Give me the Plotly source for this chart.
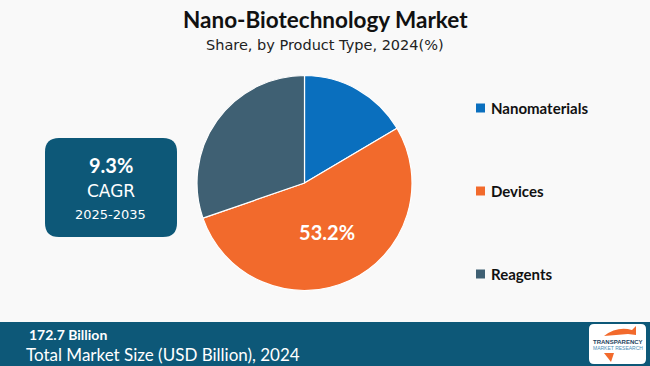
import plotly.graph_objects as go

categories = ["Nanomaterials", "Devices", "Reagents"]
shares = [16.5, 53.2, 30.3]
slice_labels = ["", "53.2%", ""]
colors = ["#0A6FBE", "#F26A2C", "#3F6073"]

title = "Nano-Biotechnology Market"
subtitle = "Share, by Product Type, 2024(%)"
cagr_value = "9.3%"
cagr_label = "CAGR"
cagr_period = "2025-2035"
market_value = "172.7 Billion"
market_label = "Total Market Size (USD Billion), 2024"

W, H = 650, 366
BG = "#F9F9F9"
TEAL = "#0D5878"

fig = go.Figure()
fig.add_trace(go.Pie(
    labels=categories, values=shares, text=slice_labels,
    textinfo="text", textposition="inside",
    insidetextfont=dict(family="Lato", size=20, color="white", weight="bold"),
    marker=dict(colors=colors, line=dict(color="white", width=1.2)),
    sort=False, direction="clockwise", rotation=0,
    domain=dict(x=[197/W, 412/W], y=[(H-290.5)/H, (H-75.5)/H]),
    showlegend=False, hoverinfo="label+percent",
))

shapes = []
annotations = []

def px(x):
    return x / W

def py(y):
    return 1 - y / H

# titles
annotations.append(dict(text=f"<b>{title}</b>", x=px(325), y=py(20), xref="paper", yref="paper",
                        showarrow=False, font=dict(family="Lato", size=22.5, color="#111111"),
                        xanchor="center", yanchor="middle"))
annotations.append(dict(text=subtitle, x=px(325), y=py(45), xref="paper", yref="paper",
                        showarrow=False, font=dict(family="DejaVu Sans", size=14.5, color="#222222"),
                        xanchor="center", yanchor="middle"))

# CAGR box (rounded)
x0, y0, x1, y1, r = 45, 138, 177, 237, 14
path = (f"M {px(x0+r)} {py(y0)} L {px(x1-r)} {py(y0)} Q {px(x1)} {py(y0)} {px(x1)} {py(y0+r)} "
        f"L {px(x1)} {py(y1-r)} Q {px(x1)} {py(y1)} {px(x1-r)} {py(y1)} "
        f"L {px(x0+r)} {py(y1)} Q {px(x0)} {py(y1)} {px(x0)} {py(y1-r)} "
        f"L {px(x0)} {py(y0+r)} Q {px(x0)} {py(y0)} {px(x0+r)} {py(y0)} Z")
shapes.append(dict(type="path", path=path, xref="paper", yref="paper",
                   fillcolor=TEAL, line=dict(width=0), layer="below"))
annotations.append(dict(text=f"<b>{cagr_value}</b>", x=px(111), y=py(165), xref="paper", yref="paper",
                        showarrow=False, font=dict(family="Lato", size=20, color="white"),
                        xanchor="center", yanchor="middle"))
annotations.append(dict(text=cagr_label, x=px(111), y=py(191), xref="paper", yref="paper",
                        showarrow=False, font=dict(family="DejaVu Sans", size=17, color="white"),
                        xanchor="center", yanchor="middle"))
annotations.append(dict(text=cagr_period, x=px(111), y=py(214), xref="paper", yref="paper",
                        showarrow=False, font=dict(family="DejaVu Sans", size=13, color="white"),
                        xanchor="center", yanchor="middle"))

# legend
legend_y = [108, 191, 274]
for cat, col, ly in zip(categories, colors, legend_y):
    shapes.append(dict(type="rect", xref="paper", yref="paper",
                       x0=px(476), x1=px(485), y0=py(ly+4.5), y1=py(ly-4.5),
                       fillcolor=col, line=dict(width=0)))
    annotations.append(dict(text=f"<b>{cat}</b>", x=px(489), y=py(ly), xref="paper", yref="paper",
                            showarrow=False, font=dict(family="Lato", size=15, color="#111111"),
                            xanchor="left", yanchor="middle"))

# bottom banner
shapes.append(dict(type="rect", xref="paper", yref="paper", x0=0, x1=1, y0=0, y1=py(322),
                   fillcolor=TEAL, line=dict(width=0), layer="below"))
annotations.append(dict(text=f"<b>{market_value}</b>", x=px(27), y=py(334), xref="paper", yref="paper",
                        showarrow=False, font=dict(family="Lato", size=14, color="white"),
                        xanchor="left", yanchor="middle"))
annotations.append(dict(text=market_label, x=px(24), y=py(354), xref="paper", yref="paper",
                        showarrow=False, font=dict(family="Lato", size=17, color="white"),
                        xanchor="left", yanchor="middle"))

# logo box
lx0, ly0, lx1, ly1, lr = 589, 324, 646, 364, 5
lpath = (f"M {px(lx0+lr)} {py(ly0)} L {px(lx1-lr)} {py(ly0)} Q {px(lx1)} {py(ly0)} {px(lx1)} {py(ly0+lr)} "
         f"L {px(lx1)} {py(ly1-lr)} Q {px(lx1)} {py(ly1)} {px(lx1-lr)} {py(ly1)} "
         f"L {px(lx0+lr)} {py(ly1)} Q {px(lx0)} {py(ly1)} {px(lx0)} {py(ly1-lr)} "
         f"L {px(lx0)} {py(ly0+lr)} Q {px(lx0)} {py(ly0)} {px(lx0+lr)} {py(ly0)} Z")
shapes.append(dict(type="path", path=lpath, xref="paper", yref="paper",
                   fillcolor="white", line=dict(width=0)))
annotations.append(dict(text="<b>TRANSPARENCY</b>", x=px(617.5), y=py(342), xref="paper", yref="paper",
                        showarrow=False, font=dict(family="Liberation Sans", size=6, color="#1D3F5E"),
                        xanchor="center", yanchor="middle"))
annotations.append(dict(text="MARKET RESEARCH", x=px(617.5), y=py(348), xref="paper", yref="paper",
                        showarrow=False, font=dict(family="Liberation Sans", size=5, color="#4A8DB5"),
                        xanchor="center", yanchor="middle"))
shapes.append(dict(type="path", xref="paper", yref="paper",
                   path=f"M {px(604)} {py(336)} Q {px(617)} {py(326)} {px(632)} {py(330)} L {px(636)} {py(326)} L {px(636)} {py(335)} L {px(628)} {py(334)} Z",
                   fillcolor="#F26A2C", line=dict(width=0)))
shapes.append(dict(type="path", xref="paper", yref="paper",
                   path=f"M {px(604)} {py(353)} L {px(614)} {py(353)} L {px(611)} {py(362)} Z",
                   fillcolor="#F26A2C", line=dict(width=0)))

fig.update_layout(
    width=W, height=H,
    margin=dict(l=0, r=0, t=0, b=0),
    paper_bgcolor=BG, plot_bgcolor=BG,
    shapes=shapes, annotations=annotations,
)

fig.write_html("out.html", config={"displayModeBar": False},
               post_script="document.body.style.margin='0';document.body.style.overflow='hidden';")
